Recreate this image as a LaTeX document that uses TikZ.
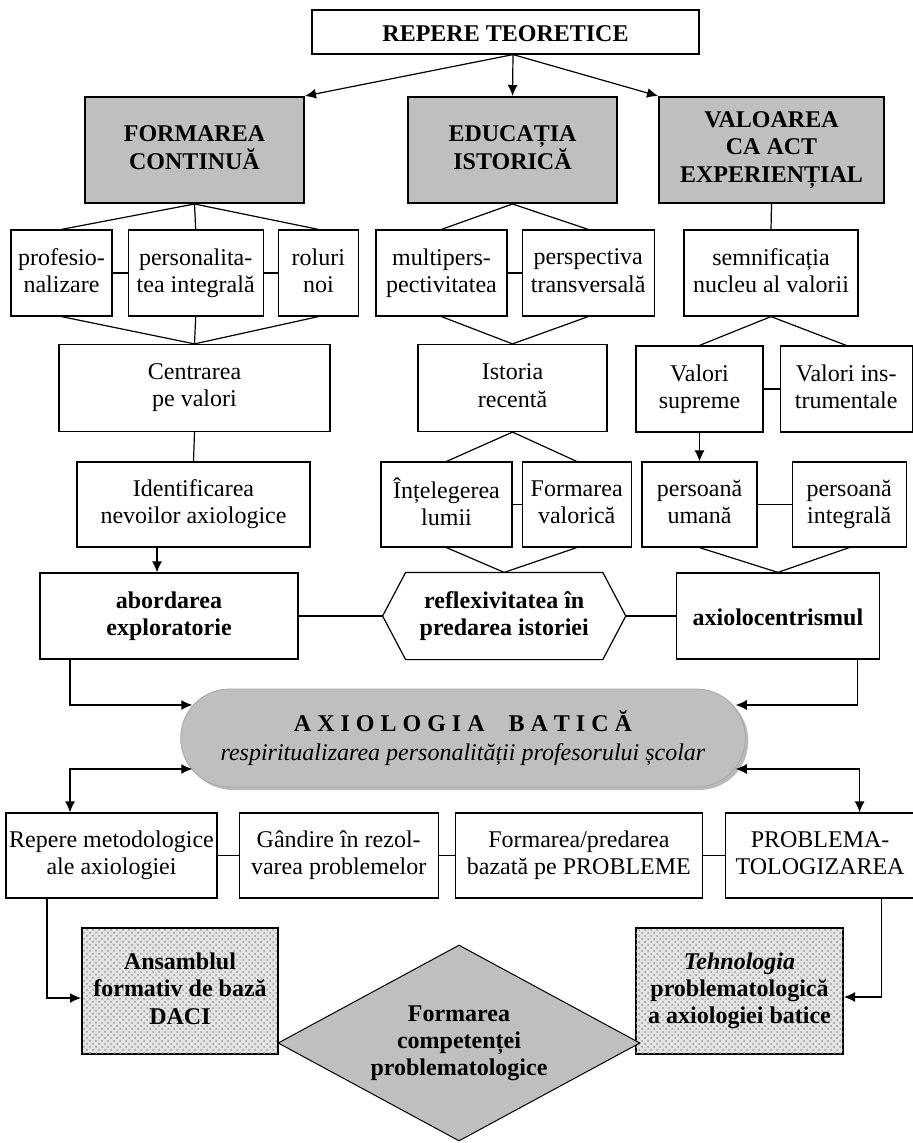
\documentclass[tikz,border=0pt]{standalone}
\usepackage{fontspec}
\setmainfont{Liberation Serif}
\usetikzlibrary{positioning,shapes.geometric,shapes.misc,patterns,shadows,arrows.meta}

\newcommand{\boxfont}{\fontsize{12pt}{13.6pt}\selectfont}
\newcommand{\topstrut}{\rule{0pt}{12pt}}
\newcommand{\botstrut}{\rule[-2.5pt]{0pt}{0pt}}

\begin{document}
\begin{tikzpicture}[x=0.5pt, y=-0.5pt,
        px/.style 2 args = {minimum width=#1*0.5pt, minimum height=#2*0.5pt},
        box/.style = {rectangle, draw, fill=white, align=center, inner sep=1pt, line width=0.6pt, font=\boxfont,
                      execute at begin node=\topstrut, execute at end node=\botstrut},
        greybox/.style = {box, fill=black!25, line width=1pt, font=\boxfont\bfseries},
        boldbox/.style = {box, font=\boxfont\bfseries},
        dotbox/.style = {box, fill=gray!22, line width=1pt, font=\boxfont\bfseries, postaction={pattern=crosshatch dots, pattern color=gray!80}},
        link/.style = {draw, line width=0.6pt},
        line/.style = {draw, -{Latex[length=5.5pt, width=5pt]}, line width=0.6pt},
        twoway/.style = {draw, {Latex[length=5.5pt, width=5pt]}-{Latex[length=5.5pt, width=5pt]}, line width=0.6pt}
    ]
        \useasboundingbox (0,0) rectangle (913,1143);

        % Nodes
        \node [boldbox, px={387}{44}] (top) at (505.5,32) {REPERE TEORETICE};
        \node [greybox, px={219}{106}] (fc) at (194.5,150) {FORMAREA\\CONTINUĂ};
        \node [greybox, px={209}{106}] (ei) at (512.5,150) {EDUCAȚIA\\ISTORICĂ};
        \node [greybox, px={225}{106}] (va) at (771.5,150) {VALOAREA\\CA ACT\\EXPERIENȚIAL};

        \node [box, px={101}{86}] (prof) at (61.5,273) {profesio-\\nalizare};
        \node [box, px={135}{86}, right=7.5pt of prof] (pers) {personalita-\\tea integrală};
        \node [box, px={80}{86}, right=7pt of pers] (rol) {roluri\\noi};
        \node [box, px={131}{86}] (multi) at (441.5,273) {multipers-\\pectivitatea};
        \node [box, px={132}{86}, right=7pt of multi] (transv) {perspectiva\\transversală};
        \node [box, px={174}{86}] (semn) at (771,273) {semnificația\\nucleu al valorii};

        \node [box, px={271}{87}] (centr) at (194.5,388) {Centrarea\\pe valori};
        \node [box, px={189}{87}] (ist) at (512.5,388) {Istoria\\recentă};
        \node [box, px={127}{86}] (vsup) at (699.5,389) {Valori\\supreme};
        \node [box, px={132}{86}, right=8pt of vsup] (vins) {Valori ins-\\trumentale};

        \node [box, px={233}{85}] (ident) at (193.5,504.5) {Identificarea\\nevoilor axiologice};
        \node [box, px={131}{85}] (intel) at (446.5,504.5) {Înțelegerea\\lumii};
        \node [box, px={109}{85}, right=4.5pt of intel] (fval) {Formarea\\valorică};
        \node [box, px={115}{85}] (pum) at (699.5,504.5) {persoană\\umană};
        \node [box, px={114}{85}, right=17pt of pum] (pint) {persoană\\integrală};

        \node [boldbox, px={258}{86}] (abord) at (169,616) {abordarea\\exploratorie};
        \node [boldbox, draw=none, fill=none, px={242}{86}, right=42pt of abord] (refl) {reflexivitatea în\\predarea istoriei};
        \node [boldbox, px={203}{86}, right=25pt of refl] (axio) {axiolocentrismul};

        \node [rounded rectangle, draw=black!35, fill=black!25, px={578}{98}, align=center, font=\boxfont,
               drop shadow={shadow xshift=1.5pt, shadow yshift=-1.5pt, opacity=0.55}] (caps) at (463,738)
              {\textbf{A X I O L O G I A\quad B A T I C Ă}\\[1pt]
               \textit{respiritualizarea personalității profesorului școlar}};

        \node [box, px={211}{85}] (rep) at (111.5,855.5) {Repere metodologice\\ale axiologiei};
        \node [box, px={199}{85}, right=10.5pt of rep] (gand) {Gândire în rezol-\\varea problemelor};
        \node [box, px={247}{85}, right=8pt of gand] (fpred) {Formarea/predarea\\bazată pe PROBLEME};
        \node [box, px={189}{85}, right=11pt of fpred] (probl) {PROBLEMA-\\TOLOGIZAREA};

        \node [dotbox, px={196}{126}] (ans) at (180,991) {Ansamblul\\formativ de bază\\DACI};
        \node [dotbox, px={207}{126}] (teh) at (739.5,991) {\textit{Tehnologia}\\problematologică\\a axiologiei batice};
        \node [diamond, aspect=1.85, draw, fill=black!25, line width=0.5pt, px={362}{196}, inner sep=0pt, align=center,
               font=\boxfont\bfseries] (comp) at (459,1043) {Formarea\\competenței\\problematologice};

        % Hexagon round the middle node
        \draw [line width=0.6pt] (refl.west) -- ([xshift=11.5pt]refl.north west) -- ([xshift=-11.5pt]refl.north east)
              -- (refl.east) -- ([xshift=-11.5pt]refl.south east) -- ([xshift=11.5pt]refl.south west) -- cycle;

        % Lines
        \draw [line] ([xshift=3.75pt]top.south) -- (fc.north east);
        \draw [line] ([xshift=3.75pt]top.south) -- (ei.north);
        \draw [line] ([xshift=3.75pt]top.south) -- (va.north west);

        \draw [link] (fc.south) -- (prof.north);
        \draw [link] (fc.south) -- (pers.north);
        \draw [link] (fc.south) -- (rol.north);
        \draw [link] (prof) -- (pers);
        \draw [link] (pers) -- (rol);
        \draw [link] (prof.south) -- (centr.north);
        \draw [link] (pers.south) -- (centr.north);
        \draw [link] (rol.south) -- (centr.north);

        \draw [link] (ei.south) -- (multi.north);
        \draw [link] (ei.south) -- (transv.north);
        \draw [link] (multi) -- (transv);
        \draw [link] (multi.south) -- (ist.north);
        \draw [link] (transv.south) -- (ist.north);

        \draw [link] (va.south) -- (semn.north);
        \draw [link] (semn.south) -- (vsup.north);
        \draw [link] (semn.south) -- (vins.north);
        \draw [link] (vsup) -- (vins);

        \draw [link] (centr.south) -- (ident.north);
        \draw [link] (ist.south) -- (intel.north);
        \draw [link] (ist.south) -- (fval.north);
        \draw [link] (intel) -- (fval);
        \draw [line] (vsup.south) -- (pum.north);
        \draw [link] (pum) -- (pint);

        \draw [line] ([xshift=-18.25pt]ident.south) -- ([xshift=-6pt]abord.north);
        \draw [link] (intel.south) -- (refl.north);
        \draw [link] (fval.south) -- (refl.north);
        \draw [link] (pum.south) -- (axio.north);
        \draw [link] (pint.south) -- (axio.north);
        \draw [link] (abord) -- (refl);
        \draw [link] (refl) -- (axio);

        \draw [line] ([xshift=-49.5pt]abord.south) |- ([xshift=6pt, yshift=16.5pt]caps.west);
        \draw [line] ([xshift=39.75pt]axio.south) |- ([xshift=-5pt, yshift=16.5pt]caps.east);
        \draw [twoway] ([xshift=6pt, yshift=-15.5pt]caps.west) -| ([xshift=-20.75pt]rep.north);
        \draw [twoway] ([xshift=-5pt, yshift=-15.5pt]caps.east) -| ([xshift=19.75pt]probl.north);

        \draw [link] (rep) -- (gand);
        \draw [link] (gand) -- (fpred);
        \draw [link] (fpred) -- (probl);
        \draw [line] ([xshift=-32.25pt]rep.south) |- ([yshift=-3.5pt]ans.west);
        \draw [line] ([xshift=30.75pt]probl.south) |- ([yshift=-3pt]teh.east);
    \end{tikzpicture}
\end{document}
